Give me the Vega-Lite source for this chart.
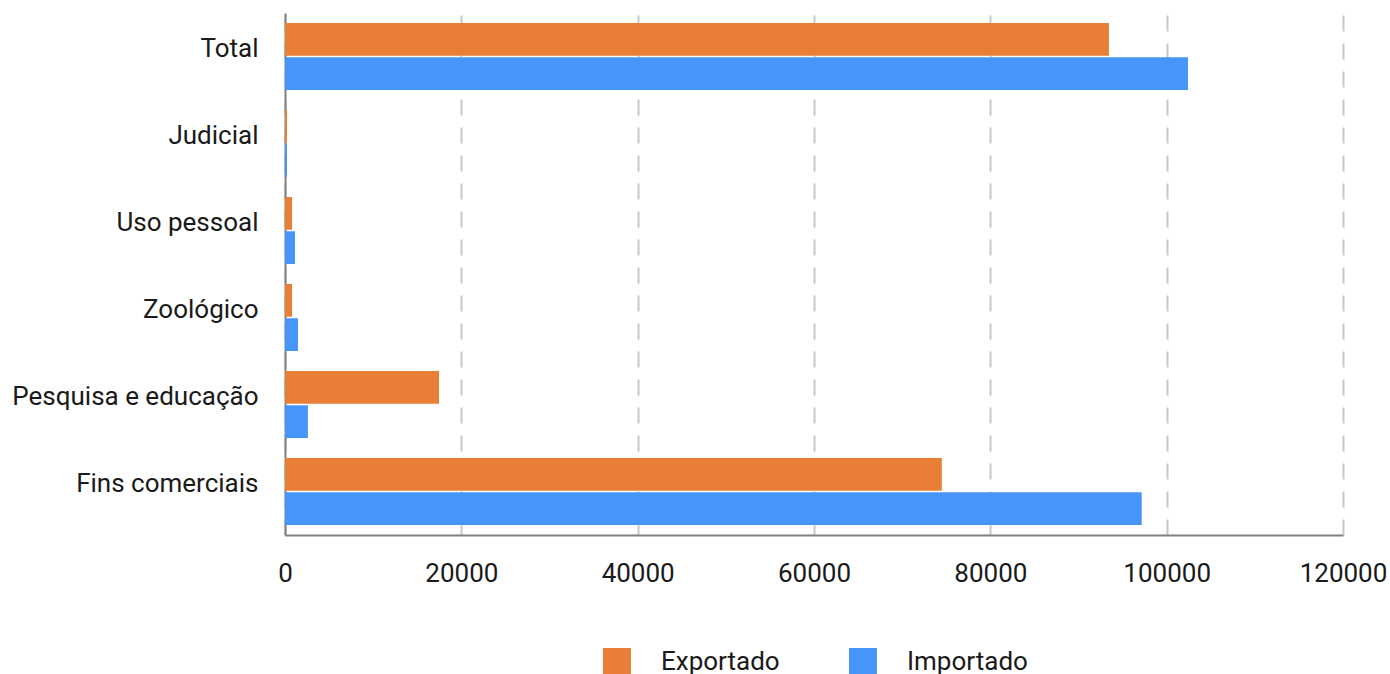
{
  "$schema": "https://vega.github.io/schema/vega-lite/v6.json",
  "autosize": {"type": "none"},
  "padding": {"left": 285, "top": 13, "right": 47, "bottom": 139},
  "width": 1058,
  "height": 522,
  "background": "white",
  "config": {
    "font": "Roboto",
    "view": {"stroke": null}
  },
  "data": {
    "values": [
      {"categoria": "Total", "serie": "Exportado", "valor": 93450},
      {"categoria": "Total", "serie": "Importado", "valor": 102420},
      {"categoria": "Judicial", "serie": "Exportado", "valor": 230},
      {"categoria": "Judicial", "serie": "Importado", "valor": 230},
      {"categoria": "Uso pessoal", "serie": "Exportado", "valor": 800},
      {"categoria": "Uso pessoal", "serie": "Importado", "valor": 1130},
      {"categoria": "Zoológico", "serie": "Exportado", "valor": 800},
      {"categoria": "Zoológico", "serie": "Importado", "valor": 1470},
      {"categoria": "Pesquisa e educação", "serie": "Exportado", "valor": 17470},
      {"categoria": "Pesquisa e educação", "serie": "Importado", "valor": 2600},
      {"categoria": "Fins comerciais", "serie": "Exportado", "valor": 74500},
      {"categoria": "Fins comerciais", "serie": "Importado", "valor": 97170}
    ]
  },
  "mark": {"type": "bar", "cornerRadius": 0},
  "encoding": {
    "y": {
      "field": "categoria",
      "type": "nominal",
      "sort": ["Total", "Judicial", "Uso pessoal", "Zoológico", "Pesquisa e educação", "Fins comerciais"],
      "scale": {"paddingInner": 0.23, "paddingOuter": 0.115},
      "axis": {
        "title": null,
        "domain": true,
        "domainColor": "#808080",
        "domainWidth": 2,
        "ticks": false,
        "grid": false,
        "labelFont": "Roboto",
        "labelFontSize": 26,
        "labelColor": "#1a1a1a",
        "labelPadding": 27,
        "labelOffset": -8,
        "labelLimit": 400
      }
    },
    "yOffset": {
      "field": "serie",
      "type": "nominal",
      "sort": ["Exportado", "Importado"],
      "scale": {"paddingInner": 0.045}
    },
    "x": {
      "field": "valor",
      "type": "quantitative",
      "scale": {"domain": [0, 120000], "nice": false},
      "axis": {
        "title": null,
        "values": [0, 20000, 40000, 60000, 80000, 100000, 120000],
        "format": "d",
        "domain": true,
        "domainColor": "#808080",
        "domainWidth": 2,
        "ticks": false,
        "grid": true,
        "gridColor": "#c8c8c8",
        "gridWidth": 2,
        "gridDash": [16, 12],
        "labelFont": "Roboto",
        "labelFontSize": 26,
        "labelColor": "#1a1a1a",
        "labelPadding": 25,
        "labelFlush": false
      }
    },
    "color": {
      "field": "serie",
      "type": "nominal",
      "sort": ["Exportado", "Importado"],
      "scale": {"domain": ["Exportado", "Importado"], "range": ["#E97F37", "#4795F9"]},
      "legend": {
        "title": null,
        "orient": "none",
        "direction": "horizontal",
        "legendX": 318,
        "legendY": 635,
        "symbolType": "square",
        "symbolSize": 784,
        "symbolStrokeWidth": 0,
        "symbolOpacity": 1,
        "labelFont": "Roboto",
        "labelFontSize": 26,
        "labelColor": "#1a1a1a",
        "labelOffset": 30,
        "columnPadding": 69,
        "padding": 0
      }
    }
  }
}
